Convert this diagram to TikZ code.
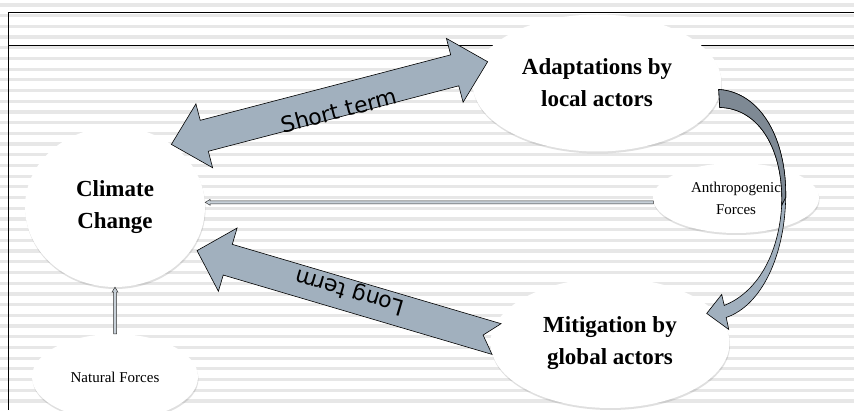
\documentclass[tikz,border=0pt]{standalone}
\usepackage{fontspec}
\setmainfont{Liberation Serif}
\newfontfamily\labelsans{DejaVu Sans}
\usetikzlibrary{calc,shapes.geometric,shadows}

\definecolor{arrowgray}{RGB}{161,176,190}
\definecolor{arrowdark}{RGB}{126,137,148}
\definecolor{stripegray}{RGB}{231,231,231}

% block arrow #2 -> #3: head length, half head width, half shaft width, tail notch
\newcommand{\blockarrow}[7]{%
  \draw[#1] ($(#2)!#6!90:(#3)$)
    -- ($(#3)!#4!(#2)!#6!-90:(#2)$)
    -- ($(#3)!#4!(#2)!#5!-90:(#2)$)
    -- (#3)
    -- ($(#3)!#4!(#2)!#5!90:(#2)$)
    -- ($(#3)!#4!(#2)!#6!90:(#2)$)
    -- ($(#2)!#6!-90:(#3)$)
    -- ($(#2)!#7!(#3)$) -- cycle;}
% block arrow with a head at both ends
\newcommand{\twinarrow}[6]{%
  \draw[#1] (#2)
    -- ($(#2)!#4!(#3)!#5!90:(#3)$)
    -- ($(#2)!#4!(#3)!#6!90:(#3)$)
    -- ($(#3)!#4!(#2)!#6!-90:(#2)$)
    -- ($(#3)!#4!(#2)!#5!-90:(#2)$)
    -- (#3)
    -- ($(#3)!#4!(#2)!#5!90:(#2)$)
    -- ($(#3)!#4!(#2)!#6!90:(#2)$)
    -- ($(#2)!#4!(#3)!#6!-90:(#3)$)
    -- ($(#2)!#4!(#3)!#5!-90:(#3)$)
    -- cycle;}

\begin{document}
\begin{tikzpicture}[x=1pt, y=1pt,
  oval/.style={ellipse, fill=white, inner sep=0pt, align=center,
    drop shadow={shadow xshift=0.5pt, shadow yshift=-2pt, opacity=0.25}},
  actor/.style={oval, font=\fontsize{23}{32}\selectfont\bfseries},
  force/.style={oval, font=\fontsize{15}{22}\selectfont},
  fat/.style={draw=black, line width=0.6pt, fill=arrowgray},
  thin/.style={draw=black!80, line width=0.5pt, fill=arrowgray!60},
  term/.style={font=\labelsans\fontsize{22}{26}\selectfont, inner sep=0pt},
]
\useasboundingbox (0,0) rectangle (854,410);
% striped page
\fill[white] (0,0) rectangle (854,410);
\foreach \k in {0,...,37}
  \draw[stripegray, line width=3.2pt] (0,{405-10.7*\k}) -- (854,{405-10.7*\k});
\draw[line width=1pt] (8,0) -- (8,397) -- (854,397);
\draw[line width=1pt] (8,364) -- (854,364);

% ovals
\node[actor, minimum width=180pt, minimum height=160pt] (cc) at (115,203) {Climate\\Change};
\node[actor, minimum width=249pt, minimum height=137pt] (ad) at (597,327) {Adaptations by\\local actors};
\node[actor, minimum width=239pt, minimum height=130pt] (mi) at (610,67) {Mitigation by\\global actors};
\node[force, minimum width=166pt, minimum height=70pt] (an) at (736,212) {Anthropogenic\\Forces};
\node[force, minimum width=166pt, minimum height=86pt] (nf) at (115,33) {Natural Forces};

% thin connectors
\coordinate (af) at (an.183);
\coordinate (at) at (af -| cc.east);
\blockarrow{thin}{af}{at}{5pt}{3pt}{1.5pt}{0pt}
\blockarrow{thin}{nf.north}{cc.south}{5pt}{3pt}{1.5pt}{0pt}

% short term
\coordinate (st1) at (cc.48);
\coordinate (st2) at ($(ad.center)!0.93!(ad.169)$);
\twinarrow{fat}{st1}{st2}{34pt}{33pt}{16pt}
\path ($(st1)+(0,-10)$) -- node[term, sloped, pos=0.53] (stl) {Short term} ($(st2)+(0,-10)$);

% long term
\coordinate (lt1) at ($(mi.center)!0.95!(mi.178)$);
\coordinate (lt2) at ($(cc.center)!1.06!(cc.-28)$);
\blockarrow{fat}{lt1}{lt2}{32pt}{33pt}{16pt}{14pt}
\path ($(lt1)+(0,5)$) -- node[term, sloped, allow upside down, pos=0.49] (ltl) {Long term} ($(lt2)+(0,5)$);

% curved arrow from adaptations to mitigation
\begin{scope}[shift={(ad.-7)}]
  \draw[fat] (0,8.5) .. controls (43,5.5) and (68,-42.5) .. (67,-99.5)
    .. controls (66,-157.5) and (43,-207.5) .. (7.5,-219.5)
    -- (10,-231.5) -- (-12,-215.5) -- (3,-196.5) -- (5.5,-207.5)
    .. controls (38,-194.5) and (60,-157.5) .. (63,-107.5)
    .. controls (65,-52.5) and (41,-10.5) .. (1,-9.5) -- cycle;
  \draw[fat, fill=arrowdark] (0,8.5) .. controls (43,5.5) and (68,-42.5) .. (67,-99.5)
    -- (63,-107.5) .. controls (65,-52.5) and (41,-10.5) .. (1,-9.5) -- cycle;
\end{scope}
\end{tikzpicture}
\end{document}
